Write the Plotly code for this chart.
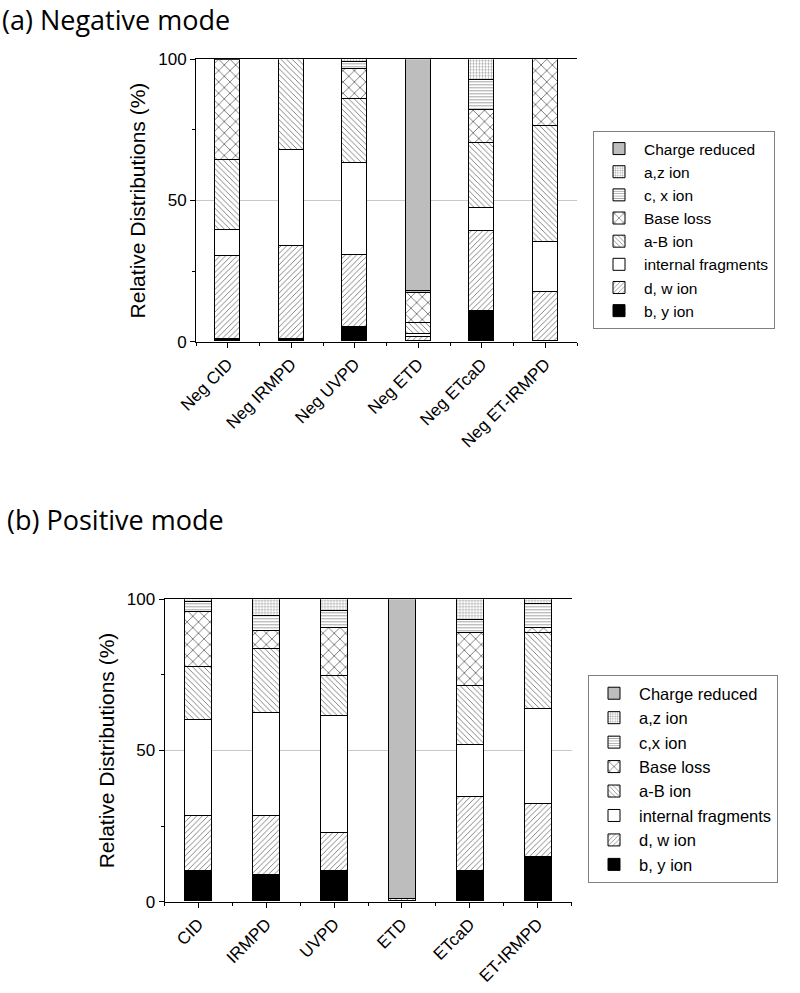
import plotly.graph_objects as go

neg_categories = ["Neg CID", "Neg IRMPD", "Neg UVPD", "Neg ETD", "Neg ETcaD", "Neg ET-IRMPD"]
pos_categories = ["CID", "IRMPD", "UVPD", "ETD", "ETcaD", "ET-IRMPD"]

# Segment sizes (%) bottom -> top
neg_by = [0.8, 0.8, 5.0, 0.0, 10.6, 0.0]
neg_dw = [29.5, 33.1, 25.7, 1.5, 28.4, 17.4]
neg_internal = [9.0, 34.0, 32.5, 1.0, 8.2, 17.7]
neg_aB = [25.0, 32.1, 22.6, 4.0, 23.0, 41.3]
neg_base = [35.2, 0.0, 10.8, 10.6, 11.6, 23.6]
neg_cx = [0.5, 0.0, 2.4, 0.8, 10.6, 0.0]
neg_az = [0.0, 0.0, 1.0, 0.0, 7.6, 0.0]
neg_charge = [0.0, 0.0, 0.0, 82.1, 0.0, 0.0]

pos_by = [9.9, 8.8, 9.9, 0.0, 9.9, 14.7]
pos_dw = [18.2, 19.6, 12.7, 0.8, 24.6, 17.6]
pos_internal = [32.0, 33.9, 38.8, 0.0, 17.2, 31.4]
pos_aB = [17.4, 21.2, 13.2, 0.0, 19.6, 25.1]
pos_base = [18.1, 5.9, 15.8, 0.0, 17.5, 1.6]
pos_cx = [3.4, 5.1, 5.7, 0.0, 4.4, 8.1]
pos_az = [1.0, 5.5, 3.9, 0.0, 6.8, 1.5]
pos_charge = [0.0, 0.0, 0.0, 99.2, 0.0, 0.0]

neg_names = ["b, y ion", "d, w ion", "internal fragments", "a-B ion", "Base loss",
             "c, x ion", "a,z ion", "Charge reduced"]
pos_names = ["b, y ion", "d, w ion", "internal fragments", "a-B ion", "Base loss",
             "c,x ion", "a,z ion", "Charge reduced"]

styles = [
    dict(color="black", shape=""),
    dict(color="white", shape="/", size=4),
    dict(color="white", shape=""),
    dict(color="white", shape="\\", size=4),
    dict(color="white", shape="x", size=8),
    dict(color="white", shape="-", size=3),
    dict(color="white", shape="+", size=3),
    dict(color="#bdbdbd", shape=""),
]

FONT = "Liberation Sans, Arial, sans-serif"

fig = go.Figure()

def add_series(names, series, xaxis, yaxis, legend):
    xs = list(range(6))
    for name, vals, st in zip(names, series, styles):
        pattern = dict(shape=st["shape"], fgcolor="#333333", bgcolor=st["color"],
                       solidity=0.15, fillmode="replace")
        if st.get("size"):
            pattern["size"] = st["size"]
        fig.add_trace(go.Bar(
            x=xs, y=vals, name=name, width=0.4,
            marker=dict(color=st["color"], line=dict(color="black", width=1),
                        pattern=pattern),
            xaxis=xaxis, yaxis=yaxis, legend=legend,
        ))

add_series(neg_names, [neg_by, neg_dw, neg_internal, neg_aB, neg_base, neg_cx, neg_az, neg_charge],
           "x", "y", "legend")
add_series(pos_names, [pos_by, pos_dw, pos_internal, pos_aB, pos_base, pos_cx, pos_az, pos_charge],
           "x2", "y2", "legend2")

W, H = 800, 993

def xdom(a, b):
    return [a / W, b / W]

def ydom(top, bottom):
    return [1 - bottom / H, 1 - top / H]

xaxis_common = dict(
    range=[-0.5, 5.5], tickmode="array", tickvals=list(range(6)),
    tickangle=-45, ticks="outside", ticklen=5, tickcolor="black",
    showline=True, linecolor="black", linewidth=1, mirror=True,
    showgrid=False, zeroline=False, automargin=False,
    tickfont=dict(family=FONT, size=17, color="black"),
    minor=dict(tickmode="array", tickvals=[-0.5 + i for i in range(7)],
               ticks="outside", ticklen=3, tickcolor="black"),
)
yaxis_common = dict(
    range=[0, 100], tickmode="array", tickvals=[0, 50, 100],
    ticks="outside", ticklen=5, tickcolor="black",
    showline=True, linecolor="black", linewidth=1,
    showgrid=True, gridcolor="#c8c8c8", gridwidth=1, zeroline=False, automargin=False,
    tickfont=dict(family=FONT, size=17, color="black"),
    title=dict(text="Relative Distributions (%)", font=dict(family=FONT, size=21, color="black"),
               standoff=6),
    minor=dict(tickmode="array", tickvals=[25, 75], ticks="outside", ticklen=3,
               tickcolor="black", showgrid=False),
)

fig.update_layout(
    width=W, height=H, margin=dict(l=0, r=0, t=0, b=0, autoexpand=False),
    paper_bgcolor="white", plot_bgcolor="white",
    barmode="stack", bargap=0,
    xaxis=dict(xaxis_common, domain=xdom(196, 577), anchor="y", ticktext=neg_categories),
    yaxis=dict(yaxis_common, domain=ydom(59.3, 341.7), anchor="x"),
    xaxis2=dict(xaxis_common, domain=xdom(164.5, 571.5), anchor="y2", ticktext=pos_categories),
    yaxis2=dict(yaxis_common, domain=ydom(599.3, 901.7), anchor="x2"),
    legend=dict(x=593 / W, y=1 - 131 / H, xanchor="left", yanchor="top",
                traceorder="reversed", bordercolor="#808080", borderwidth=1,
                bgcolor="white", font=dict(family=FONT, size=15.5, color="black"),
                tracegroupgap=0, itemwidth=40),
    legend2=dict(x=588 / W, y=1 - 675 / H, xanchor="left", yanchor="top",
                 traceorder="reversed", bordercolor="#808080", borderwidth=1,
                 bgcolor="white", font=dict(family=FONT, size=16.5, color="black"),
                 tracegroupgap=0, itemwidth=40),
    annotations=[
        dict(text="(a) Negative mode", x=0, y=1 + 1 / H, xref="paper", yref="paper",
             xanchor="left", yanchor="top", showarrow=False,
             font=dict(family="Open Sans, sans-serif", size=27, color="black")),
        dict(text="(b) Positive mode", x=5 / W, y=1 - 499 / H, xref="paper", yref="paper",
             xanchor="left", yanchor="top", showarrow=False,
             font=dict(family="Open Sans, sans-serif", size=27, color="black")),
    ],
)

fig.write_html("out.html", config={"displayModeBar": False},
               post_script="document.body.style.margin='0';document.body.style.overflow='hidden';")
